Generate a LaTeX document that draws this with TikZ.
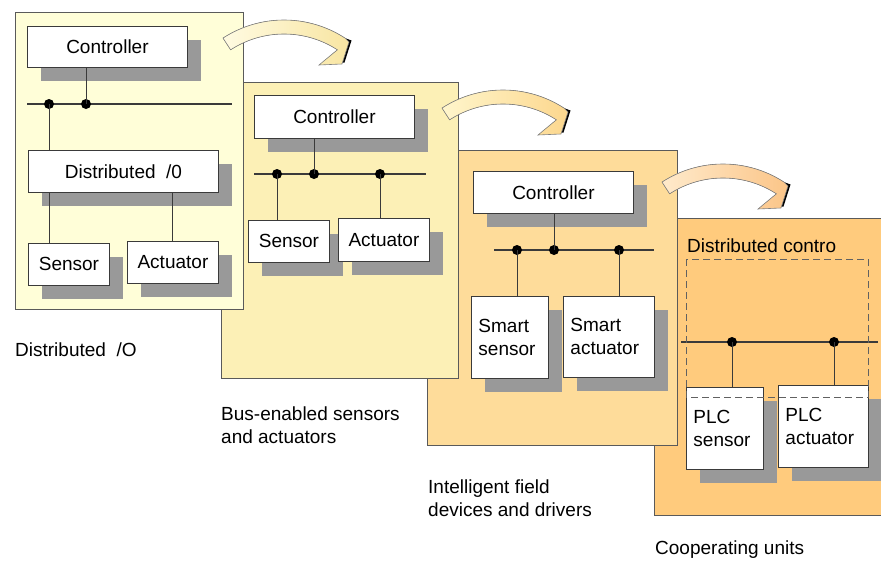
\documentclass[tikz,border=0pt]{standalone}
\usepackage{fontspec}
\setmainfont{Liberation Sans}
\usetikzlibrary{calc,shadows}

\definecolor{paneA}{HTML}{FFFED8}
\definecolor{paneB}{HTML}{FCF0B6}
\definecolor{paneC}{HTML}{FEDC9A}
\definecolor{paneD}{HTML}{FFCB7D}
\definecolor{paneline}{HTML}{5A5A5A}
\definecolor{boxline}{HTML}{3A3A3A}
\definecolor{shadowgray}{HTML}{999999}
\definecolor{arrA}{HTML}{FFFBE2}
\definecolor{arrAh}{HTML}{F8E5A2}
\definecolor{arrB}{HTML}{FFF6CC}
\definecolor{arrBh}{HTML}{FCD78E}
\definecolor{arrC}{HTML}{FFEACB}
\definecolor{arrCh}{HTML}{FBC588}

\newcommand\unitfont{\fontsize{19}{23}\selectfont}
% outline of the bent step arrow, tail corner at the origin, bend around (pivot)
\newcommand\bentoutline{($(pivot)+(123:112)$) arc[start angle=123,end angle=57,radius=112]
  -- (126,-4) -- (119,-26) -- (96,-27)
  -- ($(pivot)+(57:98)$) arc[start angle=57,end angle=123,radius=98] -- cycle}

\tikzset{
  panel/.style={draw=paneline, line width=0.9pt},
  unit/.style={draw=boxline, fill=white, line width=0.9pt, inner sep=0pt,
    anchor=north west, font=\unitfont,
    drop shadow={shadow xshift=14pt, shadow yshift=-14pt, fill=shadowgray, opacity=1}},
  twoline/.style={align=left, inner xsep=7pt},
  bus/.style={draw=boxline, line width=1.1pt},
  wire/.style={draw=boxline, line width=1pt},
  dot/.style={circle, fill=black, inner sep=0pt, minimum size=10pt},
  cluster/.style={draw=boxline!80, line width=1pt, dash pattern=on 7pt off 4pt},
  caption/.style={anchor=west, align=left, inner sep=0pt, font=\unitfont},
}

\begin{document}
\begin{tikzpicture}[x=1pt,y=-1pt]
\useasboundingbox (0,0) rectangle (881,562);
\clip (0,0) rectangle (881,562);

% cooperating units
\draw[panel, fill=paneD] (654,218) rectangle (900,515);
\node[caption] (titleD) at (687,246) {Distributed contro};
\node[unit, twoline, minimum height=82pt, text width=63pt] (sensD) at (686,387) {PLC\\sensor};
\node[unit, twoline, minimum height=82pt, text width=76pt] (actD) at (778,385) {PLC\\actuator};
\coordinate (busDw) at (681,342);
\coordinate (busDe) at (878,342);
\draw[bus] (busDw) -- (busDe);
\node[dot] (jD1) at (732,342) {};
\node[dot] (jD2) at (834,342) {};
\draw[wire] (jD1.center) -- (jD1 |- sensD.north);
\draw[wire] (jD2.center) -- (jD2 |- actD.north);
\draw[cluster] (686,259) rectangle (868,397);

% intelligent field devices
\draw[panel, fill=paneC] (427,150) rectangle (677,445);
\node[unit, minimum width=160pt, minimum height=42pt] (ctrlC) at (473,171) {Controller};
\node[unit, twoline, minimum height=82pt, text width=63pt] (sensC) at (471,296) {Smart\\sensor};
\node[unit, twoline, minimum height=81pt, text width=77pt] (actC) at (563,296) {Smart\\actuator};
\coordinate (busCw) at (494,250);
\coordinate (busCe) at (654,250);
\draw[bus] (busCw) -- (busCe);
\node[dot] (jC1) at (517,250) {};
\node[dot] (jC2) at (554,250) {};
\node[dot] (jC3) at (619,250) {};
\draw[wire] (ctrlC.south -| jC2) -- (jC2.center);
\draw[wire] (jC1.center) -- (jC1 |- sensC.north);
\draw[wire] (jC3.center) -- (jC3 |- actC.north);

% bus-enabled sensors and actuators
\draw[panel, fill=paneB] (221,82) rectangle (458,378);
\node[unit, minimum width=160pt, minimum height=43pt] (ctrlB) at (254,95) {Controller};
\node[unit, minimum width=81pt, minimum height=42pt] (sensB) at (248,220) {Sensor};
\node[unit, minimum width=91pt, minimum height=43pt] (actB) at (338,218) {Actuator};
\coordinate (busBw) at (254,174);
\coordinate (busBe) at (426,174);
\draw[bus] (busBw) -- (busBe);
\node[dot] (jB1) at (277,174) {};
\node[dot] (jB2) at (314,174) {};
\node[dot] (jB3) at (380,174) {};
\draw[wire] (ctrlB.south -| jB2) -- (jB2.center);
\draw[wire] (jB1.center) -- (jB1 |- sensB.north);
\draw[wire] (jB3.center) -- (jB3 |- actB.north);

% distributed I/O
\draw[panel, fill=paneA] (15,12) rectangle (243,309);
\node[unit, minimum width=160pt, minimum height=41pt] (ctrlA) at (27,26) {Controller};
\node[unit, minimum width=190pt, minimum height=42pt] (distA) at (28,150) {Distributed\ \ /0};
\node[unit, minimum width=81pt, minimum height=42pt] (sensA) at (28,243) {Sensor};
\node[unit, minimum width=91pt, minimum height=42pt] (actA) at (127,241) {Actuator};
\coordinate (busAw) at (27,104);
\coordinate (busAe) at (232,104);
\draw[bus] (busAw) -- (busAe);
\node[dot] (jA1) at (49,104) {};
\node[dot] (jA2) at (86,104) {};
\draw[wire] (ctrlA.south -| jA2) -- (jA2.center);
\draw[wire] (jA1.center) -- (jA1 |- distA.north);
\draw[wire] (distA.south -| jA1) -- (jA1 |- sensA.north);
\draw[wire] (actA.north) -- (actA.north |- distA.south);

% step arrows between the stages
\foreach \ax/\ay/\ca/\cb in {223/38/arrA/arrAh, 442/108/arrB/arrBh, 662/182/arrC/arrCh}{
  \begin{scope}[shift={(\ax,\ay)}, yscale=-1]
    \coordinate (pivot) at (61,-94);
    \fill[black, shift={(2.5,1.5)}] \bentoutline;
    \draw[draw=gray, line width=0.6pt, left color=\ca, right color=\cb] \bentoutline;
  \end{scope}
}

% stage captions
\node[caption] (capA) at (15,350) {Distributed\ \ /O};
\node[caption] (capB) at (221,425) {Bus-enabled sensors\\and actuators};
\node[caption] (capC) at (428,498) {Intelligent field\\devices and drivers};
\node[caption] (capD) at (655,550) {Cooperating units};
\end{tikzpicture}
\end{document}
